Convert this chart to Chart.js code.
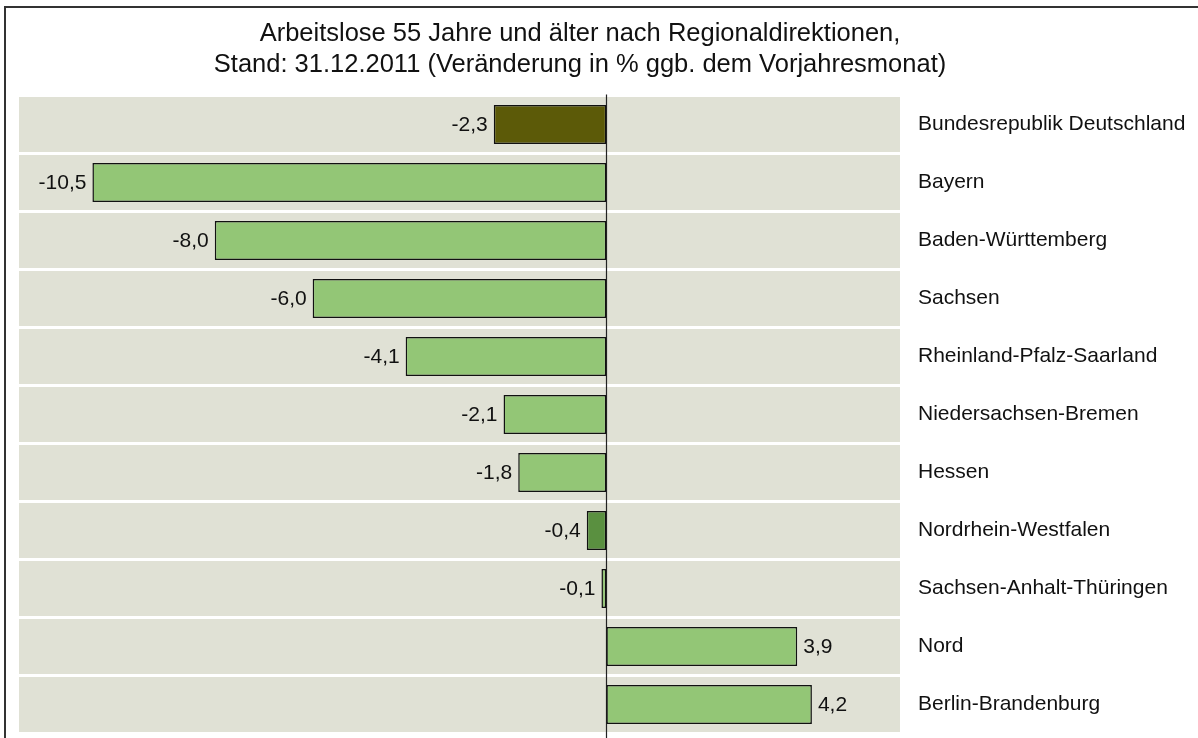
<!DOCTYPE html>
<html lang="de">
<head>
<meta charset="utf-8">
<title>Arbeitslose 55 Jahre und älter</title>
<script src="https://cdn.jsdelivr.net/npm/chart.js@4/dist/chart.umd.min.js"></script>
<style>
  html, body { margin: 0; padding: 0; background: #fff; overflow: hidden; }
  #frame { position: absolute; left: 4px; top: 6px; width: 1300px; height: 800px; border: 2px solid #333; }
  #chart { position: absolute; left: 0; top: 0; }
</style>
</head>
<body>
<div id="frame"></div>
<canvas id="chart" width="1198" height="738"></canvas>
<script>
// Regionaldirektionen und Veränderung in % ggü. Vorjahresmonat
const REGIONS = [
  "Bundesrepublik Deutschland", "Bayern", "Baden-Württemberg", "Sachsen",
  "Rheinland-Pfalz-Saarland", "Niedersachsen-Bremen", "Hessen",
  "Nordrhein-Westfalen", "Sachsen-Anhalt-Thüringen", "Nord", "Berlin-Brandenburg"
];
const CHANGE = [-2.3, -10.5, -8.0, -6.0, -4.1, -2.1, -1.8, -0.4, -0.1, 3.9, 4.2];
const TITLE_LINES = [
  "Arbeitslose 55 Jahre und älter nach Regionaldirektionen,",
  "Stand: 31.12.2011 (Veränderung in % ggb. dem Vorjahresmonat)"
];

const FONT = "'Liberation Sans', Arial, sans-serif";
const fmt = v => v.toFixed(1).replace(".", ",");

// Bund dunkel, NRW mittelgrün, Rest hellgrün
const barColors = REGIONS.map(r =>
  r === "Bundesrepublik Deutschland" ? "#5c5a08" :
  r === "Nordrhein-Westfalen" ? "#5a9040" : "#93c676");

// graue Zeilenbänder hinter den Balken
const rowBands = {
  id: "rowBands",
  beforeDraw(chart) {
    const { ctx, chartArea, scales } = chart;
    const step = chartArea.height / REGIONS.length;
    ctx.save();
    ctx.fillStyle = "#e0e1d5";
    REGIONS.forEach((_, i) => {
      const y = scales.y.getPixelForValue(i);
      ctx.fillRect(chartArea.left, y - step / 2 + 1.5, chartArea.right - chartArea.left, step - 3);
    });
    ctx.restore();
  }
};

// Nulllinie
const zeroLine = {
  id: "zeroLine",
  beforeDatasetsDraw(chart) {
    const { ctx, chartArea, scales } = chart;
    const x = Math.round(scales.x.getPixelForValue(0)) + 0.5;
    ctx.save();
    ctx.strokeStyle = "#222";
    ctx.lineWidth = 1.2;
    ctx.beginPath();
    ctx.moveTo(x, chartArea.top - 1);
    ctx.lineTo(x, chart.height);
    ctx.stroke();
    ctx.restore();
  }
};

// Titel, zentriert über dem Rahmen
const titleText = {
  id: "titleText",
  afterDraw(chart) {
    const ctx = chart.ctx;
    ctx.save();
    ctx.font = "25.5px " + FONT;
    ctx.fillStyle = "#111";
    ctx.textAlign = "center";
    ctx.textBaseline = "middle";
    ctx.fillText(TITLE_LINES[0], 580, 34);
    ctx.fillText(TITLE_LINES[1], 580, 65);
    ctx.restore();
  }
};

// Werte neben den Balkenenden
const valueLabels = {
  id: "valueLabels",
  afterDatasetsDraw(chart) {
    const ctx = chart.ctx;
    const meta = chart.getDatasetMeta(0);
    ctx.save();
    ctx.font = "21px " + FONT;
    ctx.fillStyle = "#111";
    ctx.textBaseline = "middle";
    meta.data.forEach((bar, i) => {
      const v = CHANGE[i];
      ctx.textAlign = v < 0 ? "right" : "left";
      ctx.fillText(fmt(v), bar.x + (v < 0 ? -6 : 6), bar.y + 1);
    });
    ctx.restore();
  }
};

new Chart(document.getElementById("chart"), {
  type: "bar",
  data: {
    labels: REGIONS,
    datasets: [{
      data: CHANGE,
      backgroundColor: barColors,
      borderColor: "#111",
      borderWidth: 1.5,
      borderSkipped: false,
      categoryPercentage: 1,
      barPercentage: 0.672
    }]
  },
  options: {
    indexAxis: "y",
    responsive: false,
    animation: false,
    layout: { padding: { left: 19, right: 0, top: 95.5, bottom: 4.5 } },
    plugins: {
      legend: { display: false },
      title: { display: false },
      tooltip: { enabled: false }
    },
    scales: {
      x: {
        display: false,
        min: -12,
        max: 6
      },
      y: {
        position: "right",
        grid: { display: false, drawTicks: false },
        border: { display: false },
        ticks: {
          padding: 18,
          color: "#111",
          font: { family: FONT, size: 21 }
        },
        afterFit(scale) {
          scale.width = 1198 - 900;
          // sonst reserviert die Achse unten Platz für die halbe Beschriftung
          scale.paddingTop = 0;
          scale.paddingBottom = 0;
        }
      }
    }
  },
  plugins: [rowBands, zeroLine, titleText, valueLabels]
});
</script>
</body>
</html>
